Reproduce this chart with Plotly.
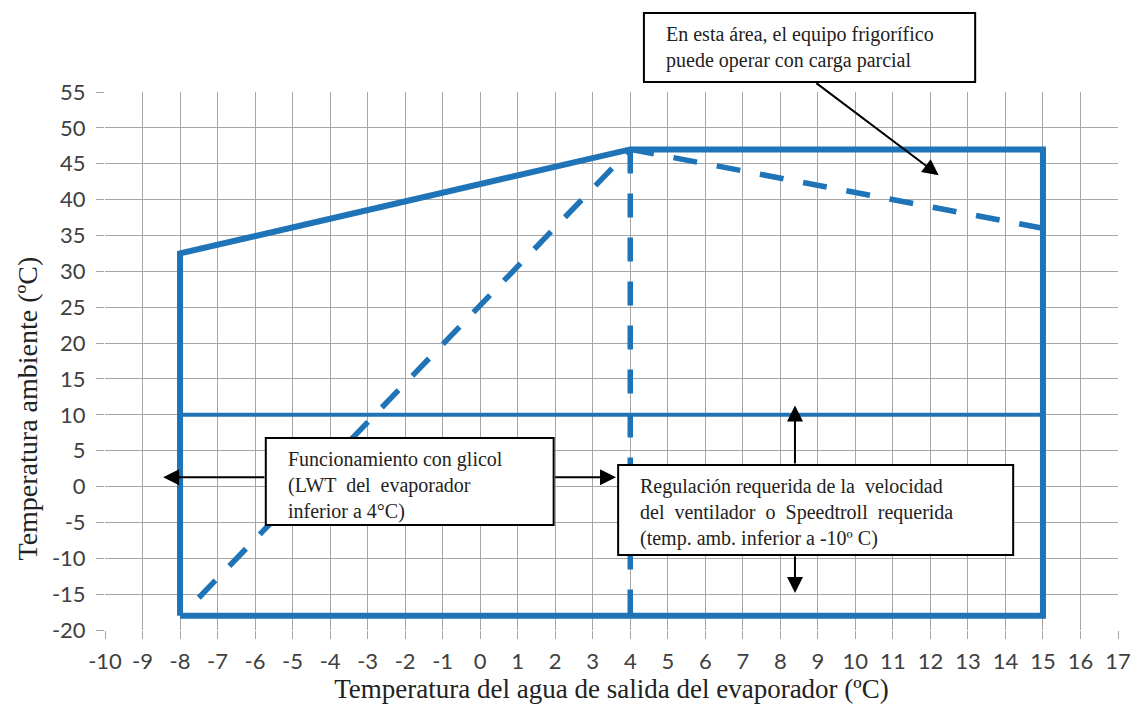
import plotly.graph_objects as go

# Envelope (solid) and internal lines
env_x = [-8, -8, 4, 15, 15, -8]
env_y = [-18, 32.5, 47, 47, -18, -18]
mid_x = [-8, 15]
mid_y = [10, 10]
diag_x = [-7.5, 4]
diag_y = [-15.5, 47]
vert_x = [4, 4]
vert_y = [47, -18]
right_x = [4, 15]
right_y = [47, 36]

x_ticks = list(range(-10, 18))
y_ticks = list(range(-20, 56, 5))
x_ticktext = [str(v) for v in x_ticks]
y_ticktext = [str(v) for v in y_ticks]

BLUE = "#1f73b7"
SERIF = "Liberation Serif"

fig = go.Figure()
solid = dict(color=BLUE, width=6)
dashed = dict(color=BLUE, width=5.5, dash="24px,20px")
fig.add_trace(go.Scatter(x=env_x, y=env_y, mode="lines", line=solid, showlegend=False, hoverinfo="skip"))
fig.add_trace(go.Scatter(x=mid_x, y=mid_y, mode="lines", line=dict(color=BLUE, width=4), showlegend=False, hoverinfo="skip"))
fig.add_trace(go.Scatter(x=diag_x, y=diag_y, mode="lines", line=dashed, showlegend=False, hoverinfo="skip"))
fig.add_trace(go.Scatter(x=vert_x, y=vert_y, mode="lines", line=dashed, showlegend=False, hoverinfo="skip"))
fig.add_trace(go.Scatter(x=right_x, y=right_y, mode="lines", line=dashed, showlegend=False, hoverinfo="skip"))

# Boxes (drawn as shapes above traces)
box_line = dict(color="black", width=2)
fig.add_shape(type="rect", xref="paper", yref="paper", x0=0.532, x1=0.859, y0=1.0186, y1=1.1468,
              line=box_line, fillcolor="white", layer="above")
fig.add_shape(type="rect", xref="x", yref="y", x0=-5.714, x1=1.958, y0=-5.36, y1=6.77,
              line=box_line, fillcolor="white", layer="above")
fig.add_shape(type="rect", xref="x", yref="y", x0=3.677, x1=14.206, y0=-9.54, y1=3.0,
              line=box_line, fillcolor="white", layer="above")

arrows = [
    # (x tip, y tip, x tail, y tail)
    (12.22, 43.4, 8.92, 56.4),
    (-8.45, 1.3, -5.71, 1.3),
    (3.62, 1.3, 1.96, 1.3),
    (8.39, 11.3, 8.39, 3.0),
    (8.39, -14.85, 8.39, -9.5),
]
for (x, y, ax, ay) in arrows:
    fig.add_annotation(x=x, y=y, ax=ax, ay=ay, xref="x", yref="y", axref="x", ayref="y",
                       text="", showarrow=True, arrowhead=2, arrowsize=1.6, arrowwidth=2,
                       arrowcolor="black")

boxfont = dict(family=SERIF, size=20, color="#222")
fig.add_annotation(x=0.5516, y=1.0827, xref="paper", yref="paper", showarrow=False,
                   xanchor="left", yanchor="middle", align="left", font=boxfont,
                   text="En esta área, el equipo frigorífico<br>puede operar con carga parcial")
fig.add_annotation(x=-5.185, y=0.15, xref="x", yref="y", showarrow=False,
                   xanchor="left", yanchor="middle", align="left", font=boxfont,
                   text="Funcionamiento con glicol<br>(LWT  del  evaporador<br>inferior a 4°C)")
fig.add_annotation(x=4.206, y=-3.55, xref="x", yref="y", showarrow=False,
                   xanchor="left", yanchor="middle", align="left", font=boxfont,
                   text="Regulación requerida de la  velocidad<br>del  ventilador  o  Speedtroll  requerida<br>(temp. amb. inferior a -10º C)")

# Y axis title (placed as annotation to match its offset position)
fig.add_annotation(x=-0.0764, y=0.411, xref="paper", yref="paper", showarrow=False,
                   textangle=-90, xanchor="center", yanchor="middle",
                   text="Temperatura ambiente (ºC)",
                   font=dict(family=SERIF, size=28, color="#222"))

tickfont = dict(family="Lato", size=22, color="#404040")
fig.update_xaxes(range=[-10, 17], tickvals=x_ticks, ticktext=x_ticktext, showgrid=True,
                 gridcolor="#a6a6a6", gridwidth=1, zeroline=False, ticks="outside", ticklen=8,
                 tickcolor="#a6a6a6", tickfont=tickfont, ticklabelstandoff=4,
                 title=dict(text="Temperatura del agua de salida del evaporador (ºC)",
                            font=dict(family=SERIF, size=27, color="#222"), standoff=4),
                 showline=False)
fig.update_yaxes(range=[-20, 55], tickvals=y_ticks, ticktext=y_ticktext, showgrid=True,
                 gridcolor="#a6a6a6", gridwidth=1, zeroline=False, ticks="outside", ticklen=8,
                 tickcolor="#a6a6a6", tickfont=tickfont, ticklabelstandoff=6,
                 showline=False)
fig.update_layout(width=1143, height=712, margin=dict(l=105, r=17, t=92, b=82),
                  plot_bgcolor="white", paper_bgcolor="white")
fig.write_html("out.html")
